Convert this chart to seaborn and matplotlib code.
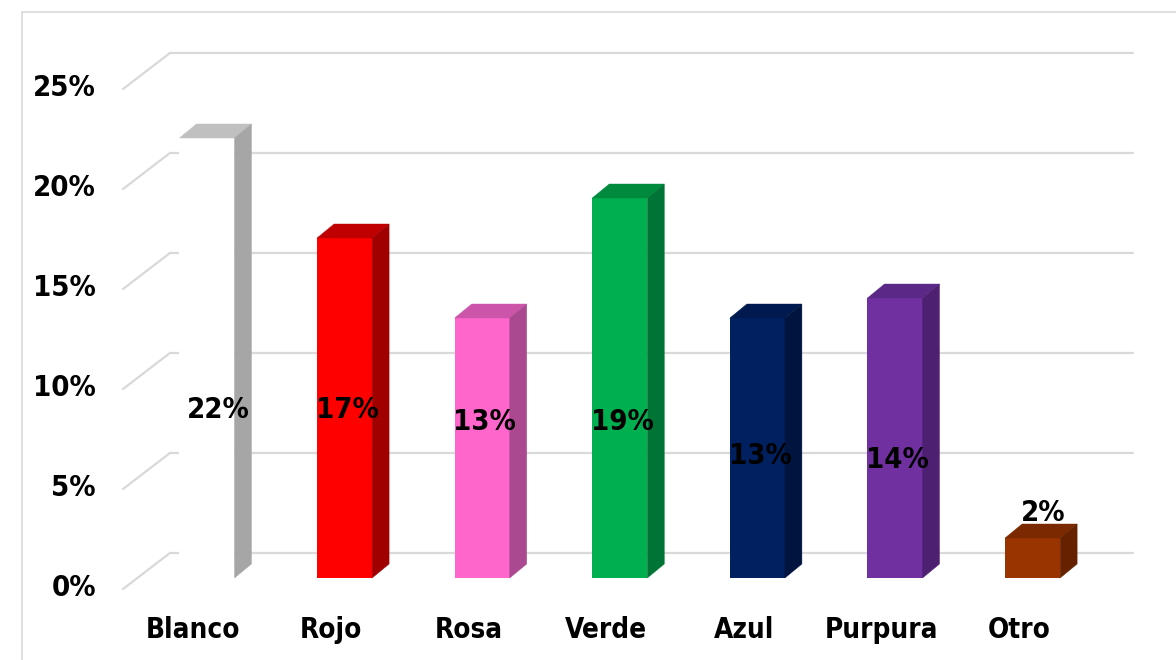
import matplotlib
matplotlib.use("Agg")
import matplotlib.pyplot as plt
from matplotlib.patches import Polygon, Rectangle
import seaborn as sns

categories = ["Blanco", "Rojo", "Rosa", "Verde", "Azul", "Purpura", "Otro"]
values = [22, 17, 13, 19, 13, 14, 2]
value_labels = ["22%", "17%", "13%", "19%", "13%", "14%", "2%"]
label_y = [8.4, 8.4, 7.8, 7.8, 6.1, 5.9, 3.25]
ticks = [0, 5, 10, 15, 20, 25]
tick_labels = ["0%", "5%", "10%", "15%", "20%", "25%"]

front = ["#FFFFFF", "#FF0000", "#FF66CC", "#00B050", "#002060", "#7030A0", "#993300"]
top = ["#C0C0C0", "#C00000", "#CC55AA", "#008A3E", "#001A50", "#5C2888", "#7A2900"]
side = ["#A6A6A6", "#A00000", "#AA4890", "#007434", "#001440", "#4E2072", "#662200"]

sns.set_style("white")
plt.rcParams["font.family"] = ["DejaVu Sans"]

fig = plt.figure(figsize=(11.76, 6.60), dpi=100)
ax = fig.add_axes([0, 0, 1, 1])

# depth of the bars and of the back wall (data units)
bdx, bdy = 0.1235, 0.7
wall_x0, wall_x1 = -0.269, 6.73
diag_x0 = -0.610

sns.barplot(x=categories, y=values, hue=categories, palette=front, legend=False,
            width=0.4, saturation=1, linewidth=0, ax=ax, zorder=2)

grid_c = "#D9D9D9"
for t in ticks:
    ax.plot([wall_x0, wall_x1], [t + 1.25, t + 1.25], color=grid_c, lw=1.6, zorder=0.5)
    ax.plot([diag_x0, wall_x0], [t - 0.55, t + 1.25], color=grid_c, lw=1.6, zorder=0.5)

txt = dict(fontweight="bold", fontstretch="condensed", color="black", zorder=5)
for i, p in enumerate(ax.patches):
    x0 = p.get_x()
    x1 = x0 + p.get_width()
    h = p.get_height()
    # top and side faces for the 3d look
    ax.add_patch(Polygon([(x0, h), (x1, h), (x1 + bdx, h + bdy), (x0 + bdx, h + bdy)],
                         closed=True, facecolor=top[i], edgecolor=top[i], lw=0.3, zorder=2))
    ax.add_patch(Polygon([(x1, 0), (x1 + bdx, bdy), (x1 + bdx, h + bdy), (x1, h)],
                         closed=True, facecolor=side[i], edgecolor=side[i], lw=0.3, zorder=2))
    cx = x0 + p.get_width() / 2
    off = 0.08 if i in (0, 6) else 0.02
    ax.text(cx + off, label_y[i], value_labels[i], ha="center", va="center",
            fontsize=21, **txt)
    ax.text(cx - 0.1, -2.6, categories[i], ha="center", va="center",
            fontsize=20, **txt)

for t, lab in zip(ticks, tick_labels):
    ax.text(-0.807, t - 0.5, lab, ha="right", va="center", fontsize=21, **txt)

ax.set_xlim(-1.504, 7.042)
ax.set_ylim(-4.1, 28.9)
ax.axis("off")

fig.patches.append(Rectangle((22 / 1176, -0.01), 1.0, 1 - 12 / 660 + 0.01,
                             transform=fig.transFigure, fill=False,
                             edgecolor="#D9D9D9", lw=1.2))

fig.savefig("out.png", dpi=100)
